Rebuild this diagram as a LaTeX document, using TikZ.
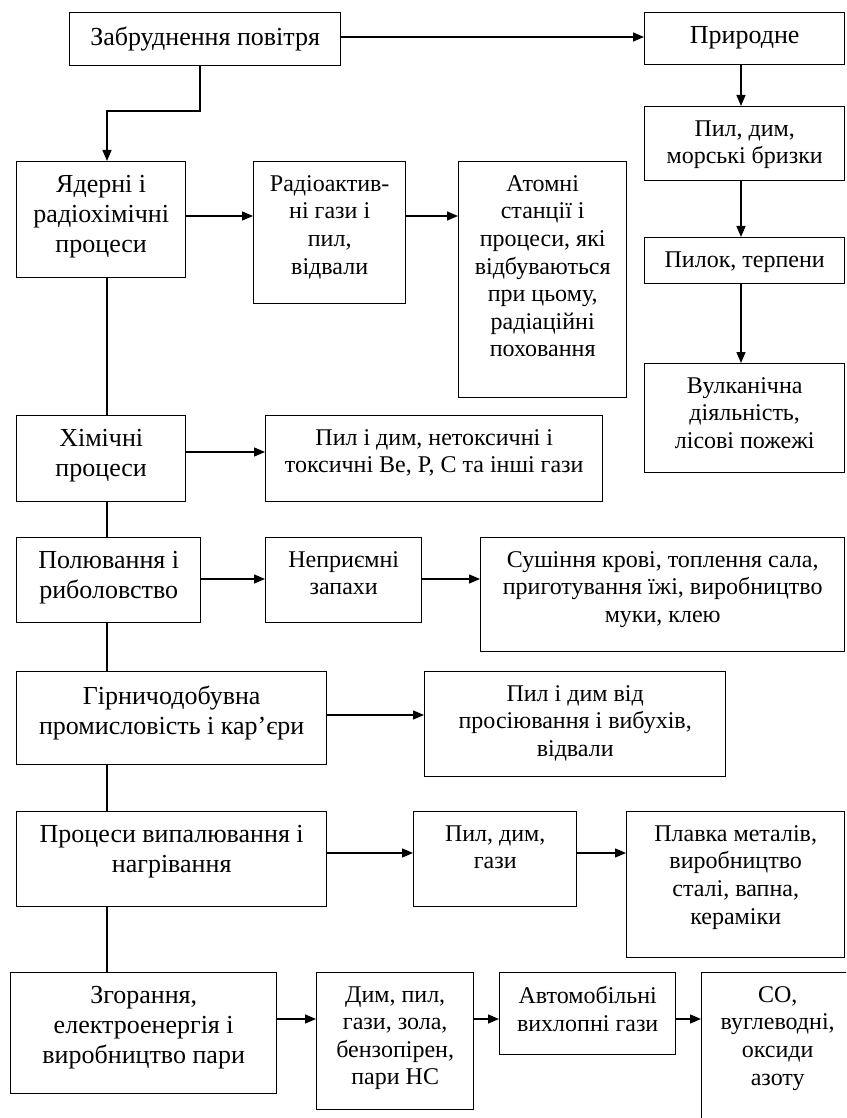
\documentclass[tikz,border=0pt]{standalone}
\usepackage{fontspec}
\setmainfont{Liberation Serif}
\usetikzlibrary{arrows.meta}
\begin{document}
\begin{tikzpicture}
[x=0.5pt,y=-0.5pt,
  blockbox/.style={shape=rectangle,draw,line width=0.7pt,anchor=north west,inner sep=0pt},%
  blocktext/.style={anchor=north,align=center,inner sep=0pt,yshift=-7pt},%
  linedecorate/.style={-,line width=0.7pt},%
  arrowdecorate/.style={-{Triangle[length=5.5pt,width=4.5pt]},line width=0.7pt}]
\useasboundingbox (0,0) rectangle (846,1118);
\clip (0,0) rectangle (846,1118);
%% blocks: name / left / top / width / height / font size / skip / text
\foreach \nodename/\xa/\ya/\w/\h/\fs/\bs/\txt in {
  zabr/69/12/271/53/13/15/{Забруднення повітря},
  pryr/644/12/200/52/13/15/{Природне},
  pyldym/644/106/200/74/12/13.8/{Пил, дим,\\морські бризки},
  pylok/644/237/200/46/12/13.8/{Пилок, терпени},
  vulk/644/363/200/109/12/13.8/{Вулканічна\\діяльність,\\лісові пожежі},
  yader/16/161/169/116/13/15/{Ядерні і\\радіохімічні\\процеси},
  radio/253/161/152/142/12/13.8/{Радіоактив-\\ні гази і\\пил,\\відвали},
  atom/458/161/168/236/12/13.8/{Атомні\\станції і\\процеси, які\\відбуваються\\при цьому,\\радіаційні\\поховання},
  khim/16/415/169/86/13/15/{Хімічні\\процеси},
  pylkhim/265/415/337/86/12/13.8/{Пил і дим, нетоксичні і\\токсичні Be, P, C та інші гази},
  polyuv/16/537/184/85/13/15/{Полювання і\\риболовство},
  nepr/265/537/156/85/12/13.8/{Неприємні\\запахи},
  sush/480/537/364/114/12/13.8/{Сушіння крові, топлення сала,\\приготування їжі, виробництво\\муки, клею},
  hirn/16/671/310/93/13/15/{Гірничодобувна\\промисловість і кар’єри},
  pylhirn/424/671/301/105/12/13.8/{Пил і дим від\\просіювання і вибухів,\\відвали},
  proc/16/811/310/95/13/15/{Процеси випалювання і\\нагрівання},
  pylproc/413/811/163/95/12/13.8/{Пил, дим,\\гази},
  plavka/626/811/218/146/12/13.8/{Плавка металів,\\виробництво\\сталі, вапна,\\кераміки},
  zhor/10/972/266/121/13/15/{Згорання,\\електроенергія і\\виробництво пари},
  dym/316/972/157/137/12/13.8/{Дим, пил,\\гази, зола,\\бензопірен,\\пари НС},
  avto/499/972/176/82/12/13.8/{Автомобільні\\вихлопні гази},
  co/701/972/152/170/12/13.8/{СО,\\вуглеводні,\\оксиди\\азоту}}
{
  \node[blockbox,minimum width=\w*0.5pt,minimum height=\h*0.5pt] (\nodename) at (\xa,\ya) {};
  \node[blocktext,font=\fontsize{\fs}{\bs}\selectfont] (\nodename-t) at (\nodename.north) {\txt};
}
%% bends of the first connector
\coordinate (k1) at (200,111);
\coordinate (k2) at (107,111);
\draw[arrowdecorate] (zabr.south -| k1) -- (k1) -- (k2) -- (yader.north -| k2);
%% horizontal arrows: from / to / level
\foreach \startnode/\endnode/\lvl in {zabr/pryr/37, yader/radio/216, radio/atom/216,
  khim/pylkhim/452, polyuv/nepr/579, nepr/sush/579, hirn/pylhirn/715,
  proc/pylproc/853, pylproc/plavka/853, zhor/dym/1019, dym/avto/1019, avto/co/1019}
{
  \draw[arrowdecorate] (\startnode.east |- 0,\lvl) -- (\endnode.west |- 0,\lvl);
}
%% right column
\foreach \startnode/\endnode in {pryr/pyldym, pyldym/pylok, pylok/vulk}
{
  \draw[arrowdecorate] (\startnode.south -| 741,0) -- (\endnode.north -| 741,0);
}
%% left spine
\foreach \startnode/\endnode in {yader/khim, khim/polyuv, polyuv/hirn, hirn/proc, proc/zhor}
{
  \draw[linedecorate] (\startnode.south -| k2) -- (\endnode.north -| k2);
}
\end{tikzpicture}
\end{document}
